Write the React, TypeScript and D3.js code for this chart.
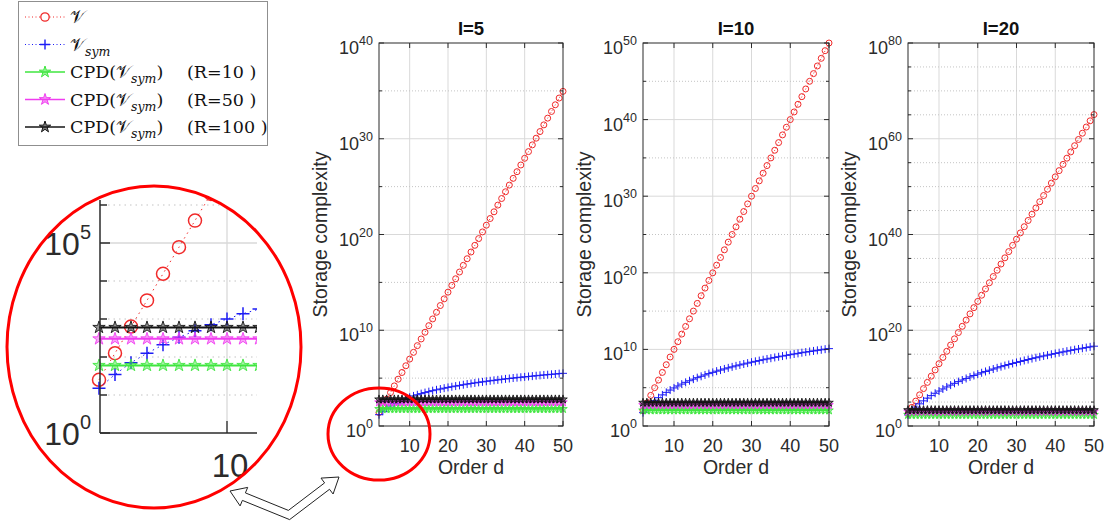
import React from 'react';
import * as d3 from 'd3';

// ---------------- data ----------------
// Tensor order d on the horizontal axis
const orders = d3.range(2, 51);

// log10 of storage of the full tensor V (I^d entries), d = 2..50
const fullLogI5 = [1.40, 2.10, 2.80, 3.49, 4.19, 4.89, 5.59, 6.29, 6.99, 7.69, 8.39, 9.09, 9.79, 10.48, 11.18, 11.88, 12.58, 13.28, 13.98, 14.68, 15.38, 16.08, 16.78, 17.47, 18.17, 18.87, 19.57, 20.27, 20.97, 21.67, 22.37, 23.07, 23.76, 24.46, 25.16, 25.86, 26.56, 27.26, 27.96, 28.66, 29.36, 30.06, 30.75, 31.45, 32.15, 32.85, 33.55, 34.25, 34.95];
const fullLogI10 = [2, 3, 4, 5, 6, 7, 8, 9, 10, 11, 12, 13, 14, 15, 16, 17, 18, 19, 20, 21, 22, 23, 24, 25, 26, 27, 28, 29, 30, 31, 32, 33, 34, 35, 36, 37, 38, 39, 40, 41, 42, 43, 44, 45, 46, 47, 48, 49, 50];
const fullLogI20 = [2.60, 3.90, 5.20, 6.51, 7.81, 9.11, 10.41, 11.71, 13.01, 14.31, 15.61, 16.91, 18.21, 19.52, 20.82, 22.12, 23.42, 24.72, 26.02, 27.32, 28.62, 29.92, 31.22, 32.53, 33.83, 35.13, 36.43, 37.73, 39.03, 40.33, 41.63, 42.93, 44.24, 45.54, 46.84, 48.14, 49.44, 50.74, 52.04, 53.34, 54.64, 55.94, 57.25, 58.55, 59.85, 61.15, 62.45, 63.75, 65.05];

// log10 of storage of the symmetric tensor V_sym, d = 2..50
const symLogI5 = [1.18, 1.54, 1.85, 2.10, 2.32, 2.52, 2.69, 2.85, 3.00, 3.14, 3.26, 3.38, 3.49, 3.59, 3.69, 3.78, 3.86, 3.95, 4.03, 4.10, 4.17, 4.24, 4.31, 4.38, 4.44, 4.50, 4.56, 4.61, 4.67, 4.72, 4.77, 4.82, 4.87, 4.92, 4.96, 5.01, 5.05, 5.09, 5.13, 5.17, 5.21, 5.25, 5.29, 5.33, 5.36, 5.40, 5.43, 5.47, 5.50];
const symLogI10 = [1.74, 2.34, 2.85, 3.30, 3.70, 4.06, 4.39, 4.69, 4.97, 5.23, 5.47, 5.70, 5.91, 6.12, 6.31, 6.49, 6.67, 6.84, 7.00, 7.16, 7.30, 7.45, 7.59, 7.72, 7.85, 7.97, 8.09, 8.21, 8.33, 8.44, 8.54, 8.65, 8.75, 8.85, 8.95, 9.04, 9.13, 9.22, 9.31, 9.40, 9.48, 9.57, 9.65, 9.73, 9.80, 9.88, 9.95, 10.03, 10.10];
const symLogI20 = [2.32, 3.19, 3.95, 4.63, 5.25, 5.82, 6.35, 6.84, 7.30, 7.74, 8.15, 8.54, 8.91, 9.27, 9.61, 9.93, 10.25, 10.55, 10.84, 11.12, 11.39, 11.65, 11.90, 12.15, 12.39, 12.62, 12.84, 13.06, 13.28, 13.48, 13.69, 13.88, 14.08, 14.26, 14.45, 14.63, 14.80, 14.98, 15.15, 15.31, 15.47, 15.63, 15.79, 15.94, 16.09, 16.24, 16.38, 16.53, 16.67];

// CPD storage (independent of d) for the panels I = 5, 10, 20
const cpdR10 = [60, 110, 210];
const cpdR50 = [300, 550, 1050];
const cpdR100 = [600, 1100, 2100];

const panelTitles = ['I=5', 'I=10', 'I=20'];
const yTopExp = [40, 50, 80];
const yLabelStep = [10, 10, 20];
const xTickValues = [10, 20, 30, 40, 50];
const cpdRanks = [10, 50, 100];

const fullLog = [fullLogI5, fullLogI10, fullLogI20];
const symLog = [symLogI5, symLogI10, symLogI20];
const cpdStorage = [cpdR10, cpdR50, cpdR100];

// ---------------- styling ----------------
const SANS = '"Liberation Sans", Arial, Helvetica, sans-serif';
const SERIF = '"DejaVu Serif", "Liberation Serif", serif';
const INK = '#2b2b2b';
const RED = '#f02a2a';
const BLUE = '#1c1cf5';
const cpdColors = ['#3fe63f', '#f03cf0', '#141414'];
const GRID = '#d9d9d9';
const GRID_MINOR = '#c4c4c4';

const PLOT_TOP = 43;
const PLOT_BOTTOM = 426;
const panelLeft = [379, 643, 908];
const panelRight = [563, 829, 1094];

const STAR_K = 0.8908130915292852;
const starPath = (r: number) => d3.symbol().type(d3.symbolStar).size((r * r) / STAR_K)() as string;

type Sizes = { circle: number; cross: number; star: number; lw: number; markLw: number; dash: string };

function Series({ x, y, idx, sz }: { x: any; y: any; idx: number; sz: Sizes }) {
  const full = orders.map((d, i) => ({ d, v: Math.pow(10, fullLog[idx][i]) }));
  const sym = orders.map((d, i) => ({ d, v: Math.pow(10, symLog[idx][i]) }));
  const line = d3.line<{ d: number; v: number }>().x(p => x(p.d)).y(p => y(p.v));
  const star = starPath(sz.star);
  const c = sz.cross;
  return (
    <g>
      <path d={line(full) as string} fill="none" stroke={RED} strokeWidth={1} strokeDasharray={sz.dash} />
      {full.map(p => (
        <circle key={'f' + p.d} cx={x(p.d)} cy={y(p.v)} r={sz.circle} fill="none" stroke={RED} strokeWidth={sz.markLw} />
      ))}
      <path d={line(sym) as string} fill="none" stroke={BLUE} strokeWidth={1} strokeDasharray={sz.dash} />
      {sym.map(p => (
        <path key={'s' + p.d} d={`M${x(p.d) - c},${y(p.v)}H${x(p.d) + c}M${x(p.d)},${y(p.v) - c}V${y(p.v) + c}`} stroke={BLUE} strokeWidth={sz.markLw} />
      ))}
      {cpdStorage.map((vals, k) => {
        const pts = orders.map(d => ({ d, v: vals[idx] }));
        return (
          <g key={'c' + k}>
            <path d={line(pts) as string} fill="none" stroke={cpdColors[k]} strokeWidth={sz.lw} />
            {pts.map(p => (
              <path key={p.d} d={star} transform={`translate(${x(p.d)},${y(p.v)})`} fill={cpdColors[k]} fillOpacity={0.45} stroke={cpdColors[k]} strokeWidth={0.9} />
            ))}
          </g>
        );
      })}
    </g>
  );
}

function Panel({ idx }: { idx: number }) {
  const left = panelLeft[idx];
  const right = panelRight[idx];
  const x = d3.scaleLinear().domain([2, 50]).range([left, right]);
  const y = d3.scaleLog().domain([1, Math.pow(10, yTopExp[idx])]).range([PLOT_BOTTOM, PLOT_TOP]);
  const major = d3.range(0, yTopExp[idx] + 1, yLabelStep[idx]);
  const minor = d3.range(5, yTopExp[idx], 5).filter(e => e % yLabelStep[idx] !== 0);
  const cx = (left + right) / 2;
  const clipId = 'panelClip' + idx;
  return (
    <g fontFamily={SANS}>
      <defs>
        <clipPath id={clipId}>
          <rect x={left - 6} y={PLOT_TOP - 6} width={right - left + 12} height={PLOT_BOTTOM - PLOT_TOP + 12} />
        </clipPath>
      </defs>
      {/* grid */}
      {xTickValues.filter(v => v < 50).map(v => (
        <line key={'vx' + v} x1={x(v)} x2={x(v)} y1={PLOT_TOP} y2={PLOT_BOTTOM} stroke={GRID} strokeWidth={1} />
      ))}
      {major.filter(e => e > 0 && e < yTopExp[idx]).map(e => (
        <line key={'gy' + e} x1={left} x2={right} y1={y(Math.pow(10, e))} y2={y(Math.pow(10, e))} stroke={GRID} strokeWidth={1} />
      ))}
      {minor.map(e => (
        <line key={'my' + e} x1={left} x2={right} y1={y(Math.pow(10, e))} y2={y(Math.pow(10, e))} stroke={GRID_MINOR} strokeWidth={1} strokeDasharray="1,2" />
      ))}
      {/* data */}
      <g clipPath={`url(#${clipId})`}>
        <Series x={x} y={y} idx={idx} sz={{ circle: 3, cross: 4, star: 4.5, lw: 1.5, markLw: 1, dash: '1,2' }} />
      </g>
      {/* box and ticks */}
      <rect x={left} y={PLOT_TOP} width={right - left} height={PLOT_BOTTOM - PLOT_TOP} fill="none" stroke={INK} strokeWidth={1} />
      {xTickValues.map(v => (
        <g key={'xt' + v}>
          <line x1={x(v)} x2={x(v)} y1={PLOT_BOTTOM} y2={PLOT_BOTTOM - 5} stroke={INK} />
          <line x1={x(v)} x2={x(v)} y1={PLOT_TOP} y2={PLOT_TOP + 5} stroke={INK} />
          <text x={x(v)} y={PLOT_BOTTOM + 26} textAnchor="middle" fontSize={18} fill={INK}>{v}</text>
        </g>
      ))}
      {major.map(e => {
        const yy = y(Math.pow(10, e));
        return (
          <g key={'yt' + e}>
            <line x1={left} x2={left + 5} y1={yy} y2={yy} stroke={INK} />
            <line x1={right} x2={right - 5} y1={yy} y2={yy} stroke={INK} />
            <text x={left - 6} y={yy + 11} textAnchor="end" fontSize={18} fill={INK}>
              10<tspan dy={-9} fontSize={12.5}>{e}</tspan>
            </text>
          </g>
        );
      })}
      {minor.map(e => {
        const yy = y(Math.pow(10, e));
        return (
          <g key={'ymt' + e}>
            <line x1={left} x2={left + 3} y1={yy} y2={yy} stroke={INK} />
            <line x1={right} x2={right - 3} y1={yy} y2={yy} stroke={INK} />
          </g>
        );
      })}
      <text x={cx} y={35} textAnchor="middle" fontSize={18.5} fontWeight="bold" fill="#111">{panelTitles[idx]}</text>
      <text x={cx} y={474} textAnchor="middle" fontSize={19.5} fill={INK}>Order d</text>
      <text transform={`translate(${left - 52},${(PLOT_TOP + PLOT_BOTTOM) / 2}) rotate(-90)`} textAnchor="middle" fontSize={19.5} fill={INK}>Storage complexity</text>
    </g>
  );
}

// Magnified view of the lower-left corner of the I=5 panel
function Inset() {
  const x = d3.scaleLinear().domain([2, 10]).range([99, 227]);
  const y = d3.scaleLog().domain([1, 1e5]).range([433, 243]);
  const axisX = 100;
  const right = 257;
  const axisTop = 200;
  const decades = [0, 1, 2, 3, 4, 5, 6];
  const ell = { cx: 154, cy: 347, rx: 147, ry: 161 };
  return (
    <g fontFamily={SANS}>
      <defs>
        <clipPath id="insetEllipse">
          <ellipse cx={ell.cx} cy={ell.cy} rx={ell.rx} ry={ell.ry} />
        </clipPath>
        <clipPath id="insetPlot">
          <rect x={84} y={190} width={right - 84} height={255} />
        </clipPath>
      </defs>
      <g clipPath="url(#insetEllipse)">
        {decades.filter(e => e !== 0 && e !== 5).map(e => (
          <line key={'ig' + e} x1={axisX + 8} x2={right} y1={y(Math.pow(10, e))} y2={y(Math.pow(10, e))} stroke={GRID_MINOR} strokeWidth={1.2} strokeDasharray="1.5,4" />
        ))}
        <line x1={axisX} x2={right} y1={y(1e5)} y2={y(1e5)} stroke={GRID} strokeWidth={1.3} />
        <line x1={x(10)} x2={x(10)} y1={axisTop - 5} y2={433} stroke={GRID} strokeWidth={1.3} />
        <g clipPath="url(#insetPlot)">
          <Series x={x} y={y} idx={0} sz={{ circle: 6.5, cross: 6.5, star: 6.5, lw: 2, markLw: 1.5, dash: '1.5,4' }} />
        </g>
        {decades.map(e => {
          const yy = y(Math.pow(10, e));
          const len = e === 0 || e === 5 ? 10 : 7;
          return <line key={'itk' + e} x1={axisX} x2={axisX + len} y1={yy} y2={yy} stroke={INK} strokeWidth={1.3} />;
        })}
        <line x1={axisX} x2={axisX} y1={axisTop} y2={433} stroke={INK} strokeWidth={1.5} />
        <line x1={axisX} x2={right} y1={433} y2={433} stroke={INK} strokeWidth={1.5} />
        <line x1={x(10)} x2={x(10)} y1={433} y2={421} stroke={INK} strokeWidth={1.3} />
        {[0, 5].map(e => (
          <text key={'il' + e} x={91} y={y(Math.pow(10, e)) + 12} textAnchor="end" fontSize={32} fill={INK}>
            10<tspan dy={-16} fontSize={20}>{e}</tspan>
          </text>
        ))}
        <text x={x(10) + 3} y={477} textAnchor="middle" fontSize={33} fill={INK}>10</text>
      </g>
      <ellipse cx={ell.cx} cy={ell.cy} rx={ell.rx} ry={ell.ry} fill="none" stroke="#f00" strokeWidth={3} />
    </g>
  );
}

// Block-outline double arrow bent at a vertex
function bentArrow(t1: number[], v: number[], t2: number[], sw: number, hw: number, hl: number) {
  const norm = (p: number[]) => { const l = Math.hypot(p[0], p[1]); return [p[0] / l, p[1] / l]; };
  const u1 = norm([t1[0] - v[0], t1[1] - v[1]]);
  const u2 = norm([t2[0] - v[0], t2[1] - v[1]]);
  let n1 = [-u1[1], u1[0]];
  if (n1[0] * u2[0] + n1[1] * u2[1] < 0) n1 = [-n1[0], -n1[1]];
  let n2 = [-u2[1], u2[0]];
  if (n2[0] * u1[0] + n2[1] * u1[1] < 0) n2 = [-n2[0], -n2[1]];
  const b = norm([u1[0] + u2[0], u1[1] + u2[1]]);
  const cos = u1[0] * u2[0] + u1[1] * u2[1];
  const k = sw / Math.sqrt((1 - cos) / 2);
  const inner = [v[0] + b[0] * k, v[1] + b[1] * k];
  const outer = [v[0] - b[0] * k, v[1] - b[1] * k];
  const hb1 = [t1[0] - u1[0] * hl, t1[1] - u1[1] * hl];
  const hb2 = [t2[0] - u2[0] * hl, t2[1] - u2[1] * hl];
  const pt = (p: number[], n: number[], s: number) => [p[0] + n[0] * s, p[1] + n[1] * s];
  const pts = [outer, pt(hb1, n1, -sw), pt(hb1, n1, -hw), t1, pt(hb1, n1, hw), pt(hb1, n1, sw), inner,
    pt(hb2, n2, sw), pt(hb2, n2, hw), t2, pt(hb2, n2, -hw), pt(hb2, n2, -sw)];
  return 'M' + pts.map(p => `${p[0].toFixed(1)},${p[1].toFixed(1)}`).join('L') + 'Z';
}

function Legend() {
  const rowY = (i: number) => 17 + i * 27.5;
  const V = '\u{1D4B1}';
  return (
    <g>
      <rect x={18.5} y={1.5} width={249} height={144} fill="#fff" stroke="#8f8f8f" strokeWidth={1} />
      {/* V */}
      <line x1={25} x2={65} y1={rowY(0)} y2={rowY(0)} stroke={RED} strokeDasharray="1,2.5" />
      <circle cx={45} cy={rowY(0)} r={4.2} fill="#fff" stroke={RED} strokeWidth={1.3} />
      {/* V_sym */}
      <line x1={25} x2={65} y1={rowY(1)} y2={rowY(1)} stroke={BLUE} strokeDasharray="1,2.5" />
      <path d={`M40,${rowY(1)}H50M45,${rowY(1) - 5}V${rowY(1) + 5}`} stroke={BLUE} strokeWidth={1.4} />
      {cpdRanks.map((r, k) => (
        <g key={'lg' + r}>
          <line x1={25} x2={65} y1={rowY(k + 2)} y2={rowY(k + 2)} stroke={cpdColors[k]} strokeWidth={1.3} />
          <path d={starPath(6)} transform={`translate(45,${rowY(k + 2)})`} fill={cpdColors[k]} fillOpacity={0.55} stroke={cpdColors[k]} strokeWidth={1} />
        </g>
      ))}
      <g fontFamily={SERIF} fontSize={17.5} fill="#111">
        <text x={70} y={rowY(0) + 6}>{V}</text>
        <text x={70} y={rowY(1) + 6}>{V}<tspan dy={5} fontSize={12.5} fontStyle="italic">sym</tspan></text>
        {cpdRanks.map((r, k) => (
          <g key={'lt' + r}>
            <text x={70} y={rowY(k + 2) + 6}>
              CPD({V}<tspan dy={5} fontSize={12.5} fontStyle="italic">sym</tspan><tspan dy={-5}>)</tspan>
            </text>
            <text x={187} y={rowY(k + 2) + 6} style={{ whiteSpace: 'pre' }}>{`(R=${r} )`}</text>
          </g>
        ))}
      </g>
    </g>
  );
}

export default function App() {
  return (
    <svg width={1109} height={527} viewBox="0 0 1109 527" style={{ position: 'absolute', left: 0, top: 0, background: '#fff' }}>
      <rect width={1109} height={527} fill="#fff" />
      {[0, 1, 2].map(i => <Panel key={i} idx={i} />)}
      <ellipse cx={379} cy={434} rx={51} ry={46} fill="none" stroke="#f00" strokeWidth={3} />
      <Inset />
      <path d={bentArrow([230, 491], [289, 515], [339, 477], 4, 10, 15)} fill="#fff" stroke="#222" strokeWidth={1} />
      <Legend />
    </svg>
  );
}
